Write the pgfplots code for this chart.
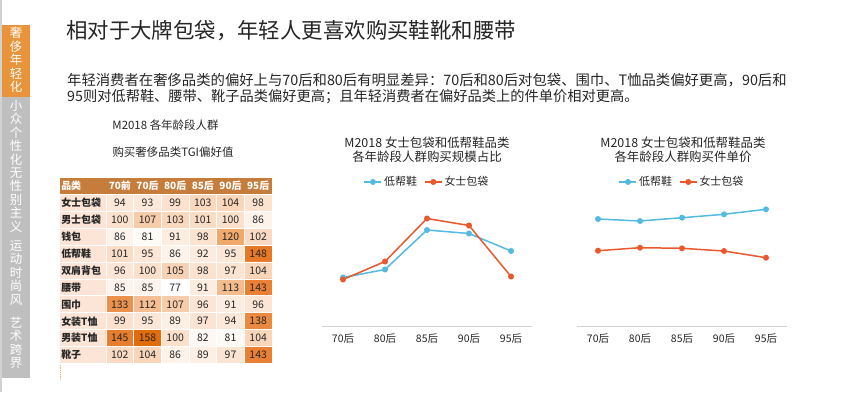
\documentclass[border=0pt]{standalone}
\usepackage{fontspec}
\setmainfont{Noto Sans CJK SC}
\usepackage{pgfplots}
\pgfplotsset{compat=1.18}
\usepackage{pgfplotstable}

\definecolor{sideorange}{RGB}{233,148,58}
\definecolor{sidegray}{RGB}{191,191,191}
\definecolor{hdr}{RGB}{198,125,60}
\definecolor{catbg}{RGB}{252,228,214}
\definecolor{lblue}{RGB}{84,186,225}
\definecolor{lorange}{RGB}{234,88,45}
\definecolor{axgray}{RGB}{210,210,210}
\definecolor{txt}{RGB}{38,38,38}

% TGI preference values: x = age group (70前,70后,80后,85后,90后,95后), y = category row
\pgfplotstableread{
x y v
0 0 94
1 0 93
2 0 99
3 0 103
4 0 104
5 0 98
0 1 100
1 1 107
2 1 103
3 1 101
4 1 100
5 1 86
0 2 86
1 2 81
2 2 91
3 2 98
4 2 120
5 2 102
0 3 101
1 3 95
2 3 86
3 3 92
4 3 95
5 3 148
0 4 96
1 4 100
2 4 105
3 4 98
4 4 97
5 4 104
0 5 85
1 5 85
2 5 77
3 5 91
4 5 113
5 5 143
0 6 133
1 6 112
2 6 107
3 6 96
4 6 91
5 6 96
0 7 99
1 7 95
2 7 89
3 7 97
4 7 94
5 7 138
0 8 145
1 8 158
2 8 100
3 8 82
4 8 81
5 8 104
0 9 102
1 9 104
2 9 86
3 9 89
4 9 97
5 9 143
}\tgi

\begin{document}
\begin{tikzpicture}[x=1bp,y=1bp]
\path[use as bounding box, fill=white] (0,0) rectangle (853,392);

% sidebar
\fill[sidegray!70] (0,0) rectangle (2,392);
\fill[sideorange] (2,295) rectangle (30,367);
\fill[sidegray] (2,14) rectangle (30,295);
\begin{scope}[every node/.style={text=white, align=center, font=\fontsize{12.5}{13.5}\selectfont, inner sep=0pt}]
\node at (16,392-60) {奢\\侈\\年\\轻\\化};
\node at (16,392-132.5) {小\\众\\个\\性\\化};
\node at (16,392-200) {无\\性\\别\\主\\义};
\node at (16,392-273) {运\\动\\时\\尚\\风};
\node at (16,392-343) {艺\\术\\跨\\界};
\end{scope}

% title and text
\node[anchor=west, inner sep=0pt, text=txt, font=\fontsize{21.5}{24}\selectfont] at (66,392-31) {相对于大牌包袋，年轻人更喜欢购买鞋靴和腰带};
\node[anchor=west, inner sep=0pt, text=txt, font=\fontsize{14.4}{17}\selectfont] at (67,392-80) {年轻消费者在奢侈品类的偏好上与70后和80后有明显差异：70后和80后对包袋、围巾、T恤品类偏好更高，90后和};
\node[anchor=west, inner sep=0pt, text=txt, font=\fontsize{14.3}{17}\selectfont] at (67,392-97) {95则对低帮鞋、腰带、靴子品类偏好更高；且年轻消费者在偏好品类上的件单价相对更高。};

% table titles
\node[inner sep=0pt, text=txt, font=\fontsize{11.5}{14}\selectfont] at (165.5,392-125) {M2018 各年龄段人群};
\node[inner sep=0pt, text=txt, font=\fontsize{11.5}{14}\selectfont] at (173,392-152) {购买奢侈品类TGI偏好值};

% chart titles
\node[inner sep=0pt, text=txt, align=center, font=\fontsize{12.5}{14}\selectfont] at (427,392-150) {M2018 女士包袋和低帮鞋品类\\各年龄段人群购买规模占比};
\node[inner sep=0pt, text=txt, align=center, font=\fontsize{12.5}{14}\selectfont] at (683,392-150) {M2018 女士包袋和低帮鞋品类\\各年龄段人群购买件单价};

% dotted border left of table
\draw[sideorange!70, densely dotted, line width=0.8bp] (60,214) -- (60,12);

% heatmap
\begin{axis}[at={(106bp,28.5bp)}, anchor=south west, scale only axis,
  width=166bp, height=169bp,
  xmin=-0.5, xmax=5.5, ymin=-0.5, ymax=9.5, y dir=reverse,
  hide axis, clip=false,
  colormap={tgi}{rgb255(0cm)=(255,255,255); rgb255(23cm)=(251,224,204); rgb255(43cm)=(241,168,108); rgb255(66cm)=(233,128,52); rgb255(81cm)=(226,107,10)},
  point meta min=77, point meta max=158,
  /pgf/number format/assume math mode=true]
\fill[catbg] (axis cs:-2.16,-0.5) rectangle (axis cs:-0.5,9.5);
\fill[hdr] (axis cs:-2.16,-1.5) rectangle (axis cs:5.5,-0.5);
\addplot[matrix plot*, mesh/cols=6, point meta=explicit,
  nodes near coords,
  nodes near coords style={anchor=center, font=\fontsize{10.5}{12}\selectfont, text=black!85}]
  table[x=x, y=y, meta=v] {\tgi};
\pgfplotsinvokeforeach{0,...,10}{
  \draw[white, line width=1bp] (axis cs:-2.16,#1-0.5) -- (axis cs:5.5,#1-0.5);
}
\pgfplotsinvokeforeach{0,...,6}{
  \draw[white, line width=1bp] (axis cs:#1-0.5,-0.5) -- (axis cs:#1-0.5,9.5);
}
\begin{scope}[every node/.style={font=\bfseries\fontsize{10}{12}\selectfont, inner sep=1bp}]
\node[anchor=west, text=white] at (axis cs:-2.16,-1) {品类};
\node[text=white] at (axis cs:0,-1) {70前};
\node[text=white] at (axis cs:1,-1) {70后};
\node[text=white] at (axis cs:2,-1) {80后};
\node[text=white] at (axis cs:3,-1) {85后};
\node[text=white] at (axis cs:4,-1) {90后};
\node[text=white] at (axis cs:5,-1) {95后};
\node[anchor=west, text=black!85] at (axis cs:-2.16,0) {女士包袋};
\node[anchor=west, text=black!85] at (axis cs:-2.16,1) {男士包袋};
\node[anchor=west, text=black!85] at (axis cs:-2.16,2) {钱包};
\node[anchor=west, text=black!85] at (axis cs:-2.16,3) {低帮鞋};
\node[anchor=west, text=black!85] at (axis cs:-2.16,4) {双肩背包};
\node[anchor=west, text=black!85] at (axis cs:-2.16,5) {腰带};
\node[anchor=west, text=black!85] at (axis cs:-2.16,6) {围巾};
\node[anchor=west, text=black!85] at (axis cs:-2.16,7) {女装T恤};
\node[anchor=west, text=black!85] at (axis cs:-2.16,8) {男装T恤};
\node[anchor=west, text=black!85] at (axis cs:-2.16,9) {靴子};
\end{scope}
\end{axis}

\pgfplotsset{linechart/.style={
  anchor=south west, scale only axis, width=210bp, height=130bp,
  xmin=-0.5, xmax=4.5, ymin=0,
  axis y line=none, axis x line*=bottom,
  x axis line style={draw=axgray, line width=0.8bp},
  xtick={0,1,2,3,4}, xticklabels={70后,80后,85后,90后,95后},
  major tick length=0, ytick=\empty,
  xticklabel style={font=\fontsize{10.5}{12}\selectfont, text=txt, yshift=-4.5bp},
  legend style={at={(0.5,1.108)}, anchor=center, draw=none, fill=none,
    font=\fontsize{11}{13}\selectfont, text=txt, legend columns=2,
    /tikz/every even column/.append style={column sep=5bp}},
  every axis plot/.append style={line width=1.5bp, mark=*, mark size=2.2bp},
  clip=false}}

% chart 1: purchase scale share
\begin{axis}[linechart, at={(322bp,66bp)}, ymax=26]
\addplot[lblue, mark options={fill=lblue, draw=lblue}] coordinates {(0,9.7)(1,11.3)(2,19.2)(3,18.5)(4,15.0)};
\addlegendentry{低帮鞋}
\addplot[lorange, mark options={fill=lorange, draw=lorange}] coordinates {(0,9.3)(1,12.9)(2,21.5)(3,20.1)(4,9.9)};
\addlegendentry{女士包袋}
\end{axis}

% chart 2: unit price
\begin{axis}[linechart, at={(577bp,66bp)}, ymax=1300]
\addplot[lblue, mark options={fill=lblue, draw=lblue}] coordinates {(0,1070)(1,1050)(2,1083)(3,1117)(4,1167)};
\addlegendentry{低帮鞋}
\addplot[lorange, mark options={fill=lorange, draw=lorange}] coordinates {(0,753)(1,783)(2,777)(3,750)(4,683)};
\addlegendentry{女士包袋}
\end{axis}
\end{tikzpicture}
\end{document}
